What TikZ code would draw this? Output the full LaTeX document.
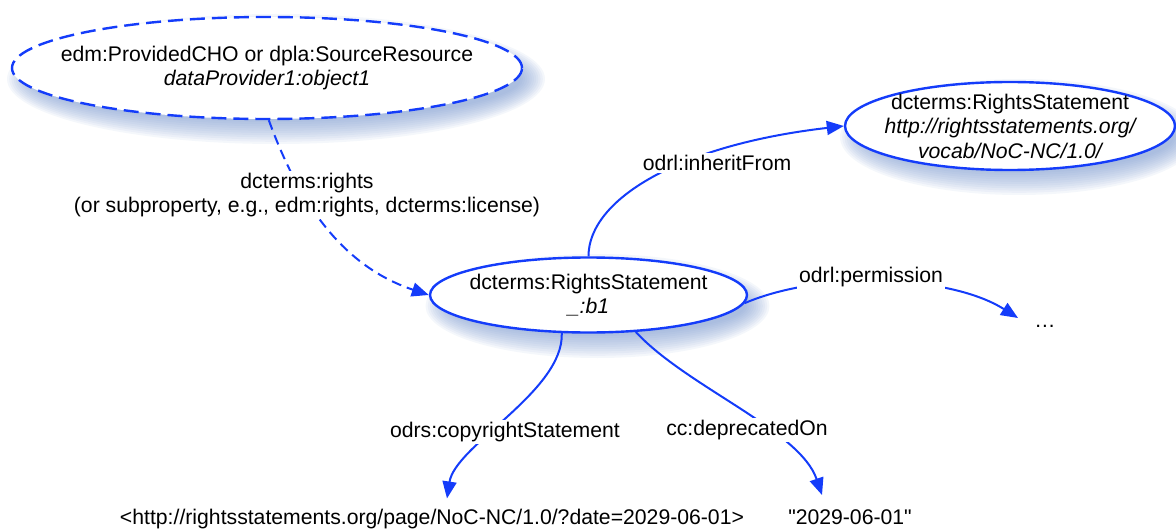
\documentclass[tikz,border=0pt]{standalone}
\usepackage{fontspec}
\setmainfont{Liberation Sans}
\usetikzlibrary{shapes.geometric,arrows.meta,backgrounds}
\definecolor{edgeblue}{RGB}{20,60,250}
\definecolor{shadowc}{RGB}{120,150,205}
\begin{document}
\begin{tikzpicture}[x=1pt,y=-1pt,
  font=\fontsize{21.2}{24.5}\selectfont,
  resnode/.style={ellipse, draw=edgeblue, line width=2.4pt, fill=white,
    inner xsep=-40pt, inner ysep=-10pt, align=center},
  conn/.style={draw=edgeblue, line width=2pt, -{Triangle[length=17pt,width=14pt]}},
  dashconn/.style={conn, dash pattern=on 10pt off 6pt},
  edgelabel/.style={fill=white, inner sep=2pt, align=center},
  literal/.style={inner xsep=0pt, inner ysep=10pt, anchor=base},
  softshadow/.style={shadowc, opacity=0.08}]
\useasboundingbox (0,0) rectangle (1176,532);

% resources
\node[resnode, dash pattern=on 15pt off 7pt, minimum width=510pt, minimum height=102pt]
  (cho) at (267,68) {edm:ProvidedCHO or dpla:SourceResource\\{\itshape dataProvider1:object1}};
\node[resnode, minimum width=317pt, minimum height=75pt]
  (b1) at (588.5,295) {dcterms:RightsStatement\\{\itshape \_:b1}};
\node[resnode, minimum width=330pt, minimum height=88pt]
  (rs) at (1010,126) {dcterms:RightsStatement\\{\itshape http://rightsstatements.org/}\\{\itshape vocab/NoC-NC/1.0/}};

% literals
\node[literal] (uri) at (432,524) {<http://rightsstatements.org/page/NoC-NC/1.0/?date=2029-06-01>};
\node[literal] (date) at (850,524) {\textquotedbl 2029-06-01\textquotedbl};
\node[inner sep=0pt] (more) at (1045,326) {…};
\coordinate (moretip) at ([shift={(-27,-8)}]more.center);

% shadows
\begin{scope}[on background layer]
  \foreach \k in {0,...,11} {
    \fill[softshadow] ([shift={(9,11)}]cho.center) ellipse [x radius={269pt-2.2pt*\k}, y radius={65pt-2.2pt*\k}];
    \fill[softshadow] ([shift={(9,11)}]b1.center) ellipse [x radius={172pt-2.2pt*\k}, y radius={52pt-2.2pt*\k}];
    \fill[softshadow] ([shift={(9,11)}]rs.center) ellipse [x radius={179pt-2.2pt*\k}, y radius={58pt-2.2pt*\k}];
  }
\end{scope}

% connectors
\draw[dashconn] (cho.-88) .. controls +(28,77) and +(-90,-30) .. (b1.west);
\draw[conn] (b1.north) .. controls +(0,-57) and +(-165,19) .. (rs.west);
\draw[conn] (b1.-3) .. controls +(77,-33) and +(-68,-43) .. (moretip);
\draw[conn] (b1.235) .. controls +(2,58) and +(8,-53) .. ([xshift=15pt]uri.north);
\draw[conn] (b1.-38) .. controls +(51,55) and +(-22,-65) .. ([shift={(-28,-4)}]date.north);

% labels
\node[edgelabel] (l1) at (307,195) {dcterms:rights\\(or subproperty, e.g., edm:rights, dcterms:license)};
\node[edgelabel] (l2) at (717,163) {odrl:inheritFrom};
\node[edgelabel] (l3) at (871,277) {odrl:permission};
\node[edgelabel] (l4) at (505,432) {odrs:copyrightStatement};
\node[edgelabel] (l5) at (747,430) {cc:deprecatedOn};
\end{tikzpicture}
\end{document}
